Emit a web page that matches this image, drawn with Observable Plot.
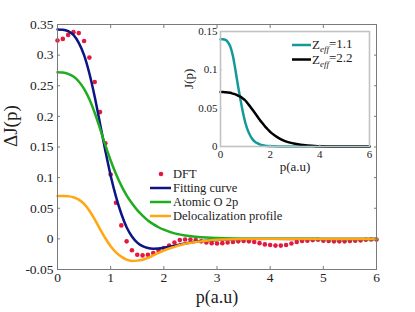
<!DOCTYPE html>
<html><head><meta charset="utf-8">
<script src="https://cdn.jsdelivr.net/npm/d3@7"></script>
<script src="https://cdn.jsdelivr.net/npm/@observablehq/plot@0.6"></script>
<style>
body{margin:0;background:#fff;}
#wrap{position:relative;width:415px;height:312px;}
#main,#inset,#overlay{position:absolute;left:0;top:0;}
#inset{left:180px;top:22px;}
svg{overflow:visible;}
#wrap svg, #wrap svg text{font-family:"Liberation Serif","Times New Roman",Times,"DejaVu Serif",serif !important;}
</style></head><body>
<div id="wrap"><div id="main"></div><div id="inset"></div><div id="overlay"></div></div>
<script>
// ---- main chart data ----
const dftP = [0,0.1,0.2,0.3,0.4,0.5,0.6,0.7,0.8,0.9,1.0,1.1,1.2,1.3,1.4,1.5,1.6,1.7,1.8,1.9,2.0,2.1,2.2,2.3,2.4,2.5,2.6,2.7,2.8,2.9,3.0,3.1,3.2,3.3,3.4,3.5,3.6,3.7,3.8,3.9,4.0,4.1,4.2,4.3,4.4,4.5,4.6,4.7,4.8,4.9,5.0,5.1,5.2,5.3,5.4,5.5,5.6,5.7,5.8,5.9,6.0];
const dftJ = [0.324,0.3265,0.333,0.3375,0.336,0.323,0.296,0.256,0.207,0.156,
  0.105,0.059,0.022,-0.004,-0.0185,-0.026,-0.027,-0.026,-0.023,-0.019,
  -0.015,-0.011,-0.006,-0.002,-0.001,-0.001,-0.002,-0.004,-0.006,-0.007,
  -0.0075,-0.007,-0.006,-0.005,-0.004,-0.0035,-0.004,-0.005,-0.007,-0.009,
  -0.010,-0.011,-0.011,-0.010,-0.0075,-0.005,-0.0035,-0.003,-0.002,-0.0015,
  -0.003,-0.0035,-0.004,-0.004,-0.004,-0.0035,-0.003,-0.0025,-0.0015,-0.001,
  -0.001];
const curveP = [0,0.1,0.2,0.3,0.4,0.5,0.6,0.7,0.8,0.9,1.0,1.1,1.2,1.3,1.4,1.5,1.6,1.7,1.8,1.9,2.0,2.2,2.4,2.6,2.8,3.0,3.5,4,5,6];
const fitJ = [0.342,0.3415,0.339,0.333,0.320,0.300,0.270,0.232,0.188,0.144,0.103,0.069,0.041,0.019,0.004,-0.006,-0.012,-0.015,-0.016,-0.0158,-0.0145,-0.011,-0.0075,-0.0048,-0.003,-0.0018,-0.0004,0,0,0];
const atomJ = [0.272,0.2715,0.2695,0.265,0.257,0.245,0.228,0.206,0.180,0.153,0.128,0.106,0.087,0.071,0.058,0.047,0.038,0.030,0.024,0.019,0.015,0.009,0.0055,0.0035,0.0022,0.0014,0.0004,0.0001,0,0];
const delocJ = [0.070,0.070,0.0695,0.068,0.064,0.057,0.046,0.032,0.016,0.001,-0.012,-0.022,-0.029,-0.034,-0.036,-0.0355,-0.034,-0.031,-0.027,-0.023,-0.019,-0.013,-0.008,-0.005,-0.003,-0.0015,-0.0003,0,0,0];
const xTicks = [0,1,2,3,4,5,6];
const yTicks = [-0.05,0,0.05,0.1,0.15,0.2,0.25,0.3,0.35];
const seriesNames = ["DFT","Fitting curve","Atomic O 2p","Delocalization profile"];
const seriesColors = ["#e3193f","#0c1584","#1fac1f","#ffa611"];

// ---- inset data ----
const insetP = [0,0.1,0.2,0.3,0.4,0.5,0.6,0.7,0.8,0.9,1.0,1.1,1.2,1.3,1.4,1.5,1.6,1.7,1.8,1.9,2.0,2.2,2.4,2.6,2.8,3.0,3.5,4,4.5,5,6];
const z11J = [0.140,0.1399,0.139,0.136,0.130,0.118,0.100,0.080,0.062,0.045,0.031,0.021,0.014,0.009,0.006,0.004,0.0025,0.0016,0.001,0.0006,0.0004,0.0002,0.0001,0,0,0,0,0,0,0,0];
const z22J = [0.071,0.071,0.0708,0.0705,0.070,0.069,0.068,0.0665,0.065,0.0627,0.060,0.056,0.052,0.0475,0.043,0.0385,0.034,0.030,0.026,0.0225,0.019,0.014,0.010,0.007,0.005,0.0035,0.0012,0.0004,0.0001,0,0];
const insetXTicks = [0,2,4,6];
const insetYTicks = [0,0.05,0.1,0.15];
const insetNames = ["1.1","2.2"];
const insetColors = ["#13999a","#000000"];

const fmt = d => d === 0 ? "0" : String(+d.toFixed(2));
const dft = dftP.map((p,i) => ({p, j: dftJ[i]}));
const curves = curveP.map((p,i) => ({p, fit: fitJ[i], atom: atomJ[i], deloc: delocJ[i]}));
const insetData = insetP.map((p,i) => ({p, a: z11J[i], b: z22J[i]}));
const axisCol = "#7a7a7a";
const serif = '"Liberation Serif", "Times New Roman", Times, "DejaVu Serif", serif';

const main = Plot.plot({
  width: 415, height: 312,
  marginLeft: 57, marginRight: 39, marginTop: 24, marginBottom: 43,
  x: {domain: [0, 6]}, y: {domain: [-0.05, 0.35]},
  style: {fontFamily: serif, fontSize: "13.5px", background: "transparent", color: "#222"},
  marks: [
    Plot.dot(dft, {x: "p", y: "j", r: 2.3, fill: seriesColors[0], stroke: "none"}),
    Plot.line(curves, {x: "p", y: "fit", stroke: seriesColors[1], strokeWidth: 2.5, curve: "monotone-x"}),
    Plot.line(curves, {x: "p", y: "atom", stroke: seriesColors[2], strokeWidth: 2.5, curve: "monotone-x"}),
    Plot.line(curves, {x: "p", y: "deloc", stroke: seriesColors[3], strokeWidth: 2.5, curve: "monotone-x"}),
    Plot.frame({stroke: axisCol}),
    Plot.axisX({ticks: xTicks, tickSize: -3, tickPadding: 6, tickFormat: d => String(d), label: null, stroke: axisCol, fill: "#222"}),
    Plot.axisX({anchor: "top", ticks: xTicks, tickSize: -3, tickFormat: () => "", label: null, stroke: axisCol}),
    Plot.axisY({ticks: yTicks, tickSize: -3, tickPadding: 7, tickFormat: fmt, label: null, stroke: axisCol, fill: "#222"}),
    Plot.axisY({anchor: "right", ticks: yTicks, tickSize: -3, tickFormat: () => "", label: null, stroke: axisCol}),
    Plot.text(["p(a.u)"], {frameAnchor: "bottom", dy: 33, fontSize: 18, fill: "#222"}),
    Plot.text(["ΔJ(p)"], {frameAnchor: "left", dx: -47, rotate: -90, fontSize: 19, fill: "#222"})
  ]
});
document.getElementById("main").appendChild(main);

const insetCol = "#c2c2c2";
const inset = Plot.plot({
  width: 195, height: 160,
  marginLeft: 40, marginRight: 6, marginTop: 9, marginBottom: 36,
  x: {domain: [0, 6]}, y: {domain: [0, 0.15]},
  style: {fontFamily: serif, fontSize: "11px", background: "transparent", color: "#222"},
  marks: [
    Plot.frame({fill: "white", stroke: "none"}),
    Plot.line(insetData, {x: "p", y: "a", stroke: insetColors[0], strokeWidth: 2.5, curve: "monotone-x"}),
    Plot.line(insetData, {x: "p", y: "b", stroke: insetColors[1], strokeWidth: 2.5, curve: "monotone-x"}),
    Plot.frame({stroke: insetCol, strokeWidth: 1.6}),
    Plot.axisX({ticks: insetXTicks, tickSize: -2, tickPadding: 6, tickFormat: d => String(d), label: null, stroke: insetCol, fill: "#222"}),
    Plot.axisY({ticks: insetYTicks, tickSize: -2, tickPadding: 5, tickFormat: fmt, label: null, stroke: insetCol, fill: "#222"}),
    Plot.text(["p(a.u)"], {frameAnchor: "bottom", dy: 24, fontSize: 13, fill: "#222"}),
    Plot.text(["J(p)"], {frameAnchor: "left", dx: -32, rotate: -90, fontSize: 13, fill: "#222"})
  ]
});
document.getElementById("inset").appendChild(inset);

// ---- legends ----
const ov = d3.select("#overlay").append("svg").attr("width", 415).attr("height", 312);
const lg = ov.append("g");
seriesNames.forEach((name, i) => {
  const y = 174 + i * 14;
  if (i === 0) {
    lg.append("circle").attr("cx", 161).attr("cy", y).attr("r", 2.3).attr("fill", seriesColors[0]);
  } else {
    lg.append("line").attr("x1", 150).attr("x2", 171).attr("y1", y).attr("y2", y)
      .attr("stroke", seriesColors[i]).attr("stroke-width", 2.5);
  }
  lg.append("text").attr("x", 173).attr("y", y).attr("dy", "0.33em")
    .attr("font-size", 12.5).attr("fill", "#222").text(name);
});
const il = ov.append("g");
insetNames.forEach((v, i) => {
  const y = 45 + i * 14.5;
  il.append("line").attr("x1", 292).attr("x2", 311).attr("y1", y).attr("y2", y)
    .attr("stroke", insetColors[i]).attr("stroke-width", 2.5);
  const t = il.append("text").attr("x", 312).attr("y", y).attr("dy", "0.33em")
    .attr("font-size", 13).attr("fill", "#222");
  t.append("tspan").text("Z");
  t.append("tspan").attr("font-size", 9).attr("font-style", "italic").attr("dy", "0.35em").text("eff");
  t.append("tspan").attr("dy", "-0.35em").text("=" + v);
});
</script>
</body></html>
